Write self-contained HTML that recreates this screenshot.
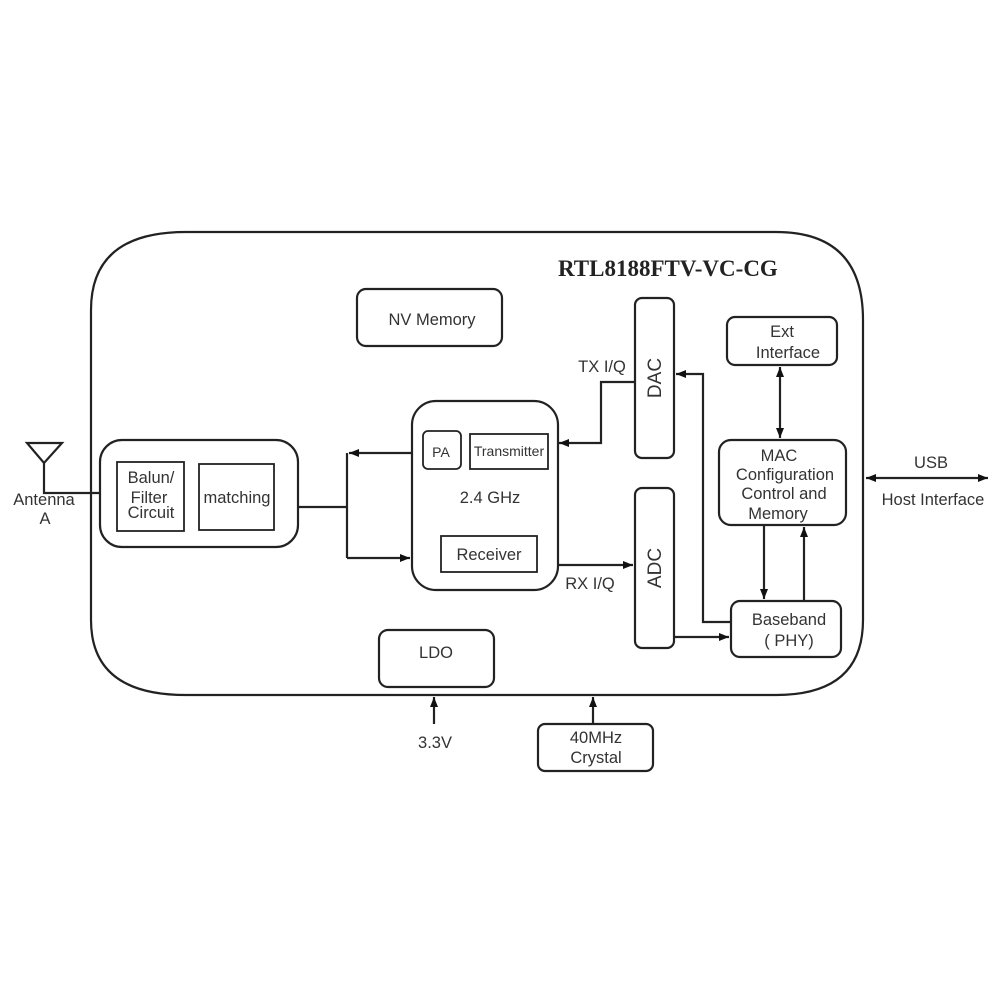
<!DOCTYPE html>
<html><head><meta charset="utf-8"><style>
html,body{margin:0;padding:0;background:#fff;}
svg{display:block;}
text{font-family:"Liberation Sans",sans-serif;font-size:16.5px;fill:#333;}
</style></head><body>
<svg width="1000" height="1000" viewBox="0 0 1000 1000" xmlns="http://www.w3.org/2000/svg">
<defs>
<marker id="a" viewBox="0 0 10 10" refX="10" refY="5" markerWidth="10" markerHeight="10" markerUnits="userSpaceOnUse" orient="auto-start-reverse">
<path d="M0,1 L10,5 L0,9 z" fill="#111"/></marker>
</defs>
<g fill="none" stroke="#222" stroke-width="2.2">
<path d="M186,232 L776,232 Q863,232 863,320 L863,620 Q863,695 776,695 L186,695 Q91,695 91,620 L91,310 Q91,232 186,232 Z"/>
<rect x="357" y="289" width="145" height="57" rx="9"/>
<rect x="635" y="298" width="39" height="160" rx="7"/>
<rect x="635" y="488" width="39" height="160" rx="7"/>
<rect x="727" y="317" width="110" height="48" rx="8"/>
<rect x="719" y="440" width="127" height="85" rx="12"/>
<rect x="731" y="601" width="110" height="56" rx="9"/>
<rect x="412" y="401" width="146" height="189" rx="24"/>
<rect x="423" y="431" width="38" height="38" rx="5" stroke-width="1.8"/>
<rect x="470" y="434" width="78" height="35" stroke-width="1.8"/>
<rect x="441" y="536" width="96" height="36" stroke-width="1.8"/>
<rect x="100" y="440" width="198" height="107" rx="22"/>
<rect x="117" y="462" width="67" height="69" stroke-width="1.8"/>
<rect x="199" y="464" width="75" height="66" stroke-width="1.8"/>
<rect x="379" y="630" width="115" height="57" rx="9"/>
<rect x="538" y="724" width="115" height="47" rx="7"/>
<path d="M27,443 L62,443 L44,463 Z"/>
<path d="M44,463 L44,493 L100,493"/>
<path d="M298,507 L347,507"/>
<path d="M347,453 L347,558"/>
<path d="M412,453 L349,453" marker-end="url(#a)"/>
<path d="M347,558 L410,558" marker-end="url(#a)"/>
<path d="M635,382 L601,382 L601,443 L559,443" marker-end="url(#a)"/>
<path d="M558,565 L633,565" marker-end="url(#a)"/>
<path d="M731,622 L703,622 L703,374 L676,374" marker-end="url(#a)"/>
<path d="M674,637 L729,637" marker-end="url(#a)"/>
<path d="M780,367 L780,438" marker-start="url(#a)" marker-end="url(#a)"/>
<path d="M764,525 L764,599" marker-end="url(#a)"/>
<path d="M804,601 L804,527" marker-end="url(#a)"/>
<path d="M866,478 L988,478" marker-start="url(#a)" marker-end="url(#a)"/>
<path d="M434,724 L434,697" marker-end="url(#a)"/>
<path d="M593,724 L593,697" marker-end="url(#a)"/>
</g>
<text x="558" y="276" style="font-family:'Liberation Serif',serif;font-weight:bold;font-size:23px;fill:#222">RTL8188FTV-VC-CG</text>
<text x="432" y="325" text-anchor="middle">NV Memory</text>
<text x="782" y="337" text-anchor="middle">Ext</text>
<text x="788" y="358" text-anchor="middle">Interface</text>
<text x="779" y="461" text-anchor="middle">MAC</text>
<text x="785" y="480" text-anchor="middle">Configuration</text>
<text x="784" y="499" text-anchor="middle">Control and</text>
<text x="778" y="519" text-anchor="middle">Memory</text>
<text x="789" y="625" text-anchor="middle">Baseband</text>
<text x="789" y="646" text-anchor="middle">( PHY)</text>
<text x="602" y="372" text-anchor="middle">TX I/Q</text>
<text x="590" y="589" text-anchor="middle">RX I/Q</text>
<text transform="translate(661,378) rotate(-90)" text-anchor="middle" style="font-size:19px">DAC</text>
<text transform="translate(661,568) rotate(-90)" text-anchor="middle" style="font-size:19px">ADC</text>
<text x="441" y="457" text-anchor="middle" style="font-size:14px">PA</text>
<text x="509" y="456" text-anchor="middle" style="font-size:14px">Transmitter</text>
<text x="490" y="503" text-anchor="middle">2.4 GHz</text>
<text x="489" y="560" text-anchor="middle">Receiver</text>
<text x="151" y="483" text-anchor="middle">Balun/</text>
<text x="149" y="503" text-anchor="middle">Filter</text>
<text x="151" y="518" text-anchor="middle">Circuit</text>
<text x="237" y="503" text-anchor="middle">matching</text>
<text x="44" y="505" text-anchor="middle">Antenna</text>
<text x="45" y="524" text-anchor="middle">A</text>
<text x="436" y="658" text-anchor="middle">LDO</text>
<text x="435" y="748" text-anchor="middle">3.3V</text>
<text x="596" y="743" text-anchor="middle">40MHz</text>
<text x="596" y="763" text-anchor="middle">Crystal</text>
<text x="931" y="468" text-anchor="middle">USB</text>
<text x="933" y="505" text-anchor="middle">Host Interface</text>
</svg>
</body></html>
